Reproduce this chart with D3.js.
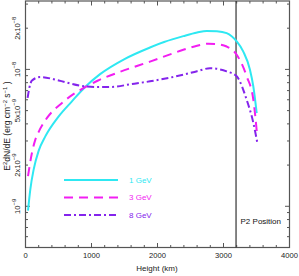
<!DOCTYPE html>
<html>
<head>
<meta charset="utf-8">
<script src="https://cdn.jsdelivr.net/npm/d3@7"></script>
<style>
  body { margin: 0; background: #fff; }
  svg { display: block; font-family: "Liberation Sans", Arial, sans-serif; }
</style>
</head>
<body>
<svg id="chart" width="299" height="276"></svg>
<script>
// values
const heights1 = [38, 73, 124, 200, 300, 500, 700, 900, 1130, 1500, 1886, 2100, 2391, 2600, 2745, 2900, 3048, 3200, 3300, 3400, 3452, 3503];
const flux1 = [9.3e-10, 1.33e-9, 1.86e-9, 2.55e-9, 3.24e-9, 4.52e-9, 5.82e-9, 7.41e-9, 9.23e-9, 1.19e-8, 1.445e-8, 1.585e-8, 1.75e-8, 1.86e-8, 1.91e-8, 1.9e-8, 1.84e-8, 1.6e-8, 1.35e-8, 1.0e-8, 7.5e-9, 4.8e-9];

const heights3 = [38, 98, 149, 200, 326, 553, 755, 856, 1100, 1432, 1886, 2391, 2600, 2770, 2900, 3048, 3200, 3351, 3452, 3510];
const flux3 = [1.66e-9, 2.46e-9, 3.07e-9, 3.5e-9, 4.42e-9, 5.69e-9, 6.73e-9, 7.2e-9, 8.3e-9, 9.6e-9, 1.14e-8, 1.39e-8, 1.49e-8, 1.54e-8, 1.53e-8, 1.47e-8, 1.28e-8, 8.9e-9, 6.0e-9, 3.3e-9];

const heights8 = [32, 60, 98, 225, 503, 830, 1080, 1300, 1600, 1886, 2391, 2600, 2795, 2950, 3048, 3200, 3351, 3452, 3510];
const flux8 = [6.2e-9, 7.4e-9, 8.3e-9, 8.8e-9, 8.3e-9, 7.6e-9, 7.44e-9, 7.45e-9, 7.8e-9, 8.18e-9, 9.15e-9, 9.7e-9, 1.02e-8, 1.0e-8, 9.67e-9, 8.9e-9, 6.0e-9, 4.07e-9, 2.95e-9];

const seriesNames = ["1 GeV", "3 GeV", "8 GeV"];
const xTicks = [0, 1000, 2000, 3000, 4000];
const yTicks = [2e-8, 1e-8, 5e-9, 2e-9, 1e-9];
const yTickBase = ["2x10", "10", "5x10", "2x10", "10"];
const yTickExp = ["\u22128", "\u22128", "\u22129", "\u22129", "\u22129"];
const p2Height = 3190;

const series = [
  { name: seriesNames[0], h: heights1, f: flux1, color: "#2ee8f2", dash: null },
  { name: seriesNames[1], h: heights3, f: flux3, color: "#f21ef2", dash: "9,6" },
  { name: seriesNames[2], h: heights8, f: flux8, color: "#8424ec", dash: "7,3,2,3" }
];

const svg = d3.select("#chart");
const plotL = 25.5, plotR = 289.5, plotT = 1, plotB = 247.5;

const x = d3.scaleLinear().domain([0, 4000]).range([plotL, plotR]);
const y = d3.scaleLog().domain([5e-10, 3.16e-8]).range([plotB, plotT]);

const axisColor = "#555";

// minor/major ticks on all four sides
const g = svg.append("g");
const xMinor = d3.range(0, 4001, 200);
xMinor.forEach(v => {
  const len = v % 1000 === 0 ? 4.5 : 2.5;
  g.append("line").attr("x1", x(v)).attr("x2", x(v)).attr("y1", plotB).attr("y2", plotB - len)
    .attr("stroke", axisColor).attr("stroke-width", 1);
  g.append("line").attr("x1", x(v)).attr("x2", x(v)).attr("y1", plotT).attr("y2", plotT + len)
    .attr("stroke", axisColor).attr("stroke-width", 1);
});

const yMinor = [];
[-10, -9, -8].forEach(e => {
  for (let m = 1; m <= 9; m++) {
    const v = m * Math.pow(10, e);
    if (v >= 5e-10 && v <= 3.16e-8) yMinor.push({ v: v, major: m === 1 });
  }
});
yMinor.forEach(d => {
  const len = d.major ? 4.5 : 2.5;
  g.append("line").attr("x1", plotL).attr("x2", plotL + len).attr("y1", y(d.v)).attr("y2", y(d.v))
    .attr("stroke", axisColor).attr("stroke-width", 1);
  g.append("line").attr("x1", plotR).attr("x2", plotR - len).attr("y1", y(d.v)).attr("y2", y(d.v))
    .attr("stroke", axisColor).attr("stroke-width", 1);
});

// frame
svg.append("rect").attr("x", plotL).attr("y", plotT)
  .attr("width", plotR - plotL).attr("height", plotB - plotT)
  .attr("fill", "none").attr("stroke", axisColor).attr("stroke-width", 1.2);

// x tick labels
svg.selectAll(".xlab").data(xTicks).enter().append("text")
  .attr("x", d => x(d)).attr("y", 258)
  .attr("text-anchor", "middle").attr("font-size", 7.6).attr("fill", "#222")
  .text(d => d);

// y tick labels (rotated)
yTicks.forEach((v, i) => {
  const t = svg.append("text")
    .attr("transform", `translate(19.5,${y(v)}) rotate(-90)`)
    .attr("text-anchor", "middle").attr("font-size", 7.6).attr("fill", "#222");
  t.append("tspan").text(yTickBase[i]);
  t.append("tspan").attr("dy", -3.5).attr("font-size", 6).text(yTickExp[i]);
});

// axis titles
svg.append("text").attr("x", 157).attr("y", 271)
  .attr("text-anchor", "middle").attr("font-size", 8).attr("fill", "#222")
  .text("Height (km)");

const yt = svg.append("text")
  .attr("transform", "translate(10,126) rotate(-90)")
  .attr("text-anchor", "middle").attr("font-size", 8.5).attr("fill", "#222");
yt.append("tspan").text("E");
yt.append("tspan").attr("dy", -3.5).attr("font-size", 6).text("2");
yt.append("tspan").attr("dy", 3.5).text("dN/dE (erg cm");
yt.append("tspan").attr("dy", -3.5).attr("font-size", 6).text("\u22122");
yt.append("tspan").attr("dy", 3.5).text(" s");
yt.append("tspan").attr("dy", -3.5).attr("font-size", 6).text("\u22121");
yt.append("tspan").attr("dy", 3.5).text(" )");

// P2 position marker
svg.append("line").attr("x1", x(p2Height)).attr("x2", x(p2Height))
  .attr("y1", plotT).attr("y2", plotB).attr("stroke", "#333").attr("stroke-width", 1.2);
svg.append("text").attr("x", x(p2Height) + 4.5).attr("y", 224)
  .attr("font-size", 8).attr("fill", "#111").text("P2 Position");

// curves
const line = d3.line().x(d => x(d[0])).y(d => y(d[1])).curve(d3.curveMonotoneX);
series.forEach(s => {
  const pts = s.h.map((h, i) => [h, s.f[i]]);
  svg.append("path").attr("d", line(pts))
    .attr("fill", "none").attr("stroke", s.color).attr("stroke-width", 2)
    .attr("stroke-dasharray", s.dash);
});

// legend
const legY = [180, 197.5, 215];
series.forEach((s, i) => {
  svg.append("line").attr("x1", 64).attr("x2", 118).attr("y1", legY[i]).attr("y2", legY[i])
    .attr("stroke", s.color).attr("stroke-width", 2).attr("stroke-dasharray", s.dash);
  svg.append("text").attr("x", 129).attr("y", legY[i] + 2.8)
    .attr("font-size", 8).attr("fill", s.color).text(s.name);
});
</script>
</body>
</html>
